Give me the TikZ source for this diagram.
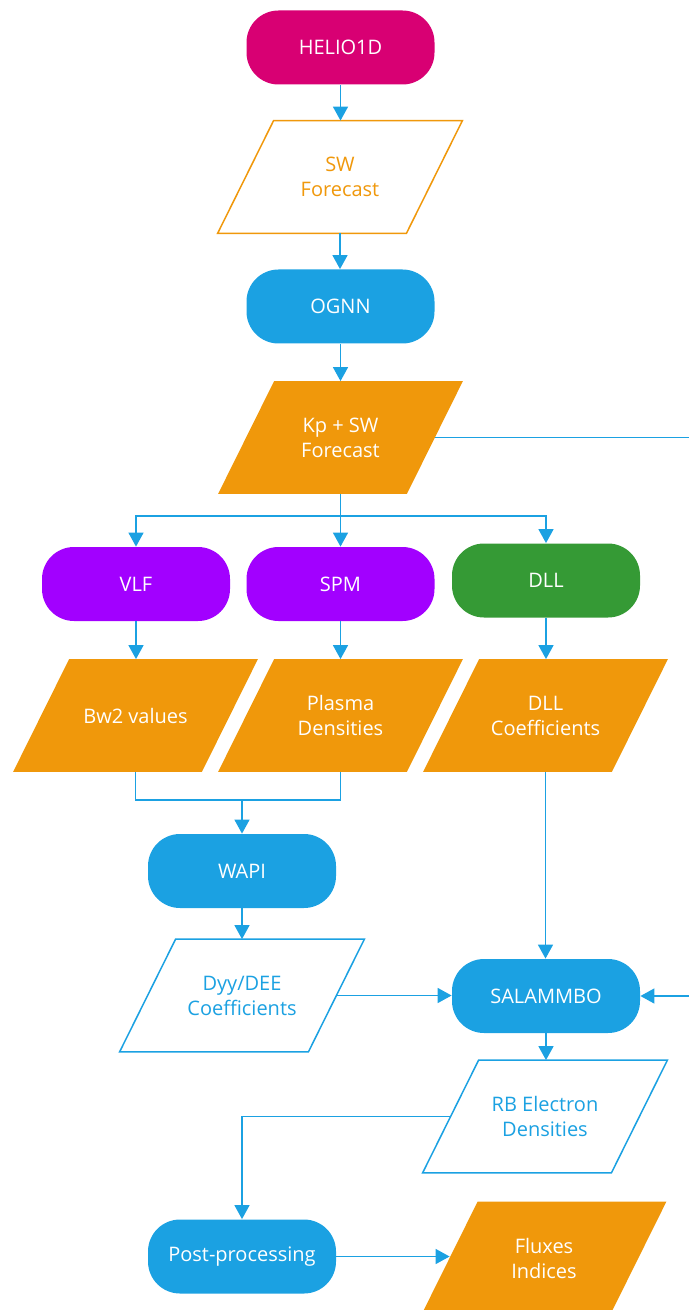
\documentclass[tikz,border=0pt]{standalone}
\usepackage{fontspec}
\setmainfont{Open Sans}
\usetikzlibrary{arrows.meta,backgrounds}
\definecolor{cmag}{HTML}{D80073}
\definecolor{cblue}{HTML}{1BA1E2}
\definecolor{cviol}{HTML}{A200FF}
\definecolor{cgreen}{HTML}{359A35}
\definecolor{corange}{HTML}{F0980B}
\newcommand\drawpara[2]{\path[#2] ([xshift=-14pt]#1.south west) -- ([xshift=-14pt]#1.south east) -- ([xshift=14pt]#1.north east) -- ([xshift=14pt]#1.north west) -- cycle;}
\begin{document}
\begin{tikzpicture}[x=0.5pt,y=-0.5pt,
  font=\fontsize{10}{12.5}\selectfont,
  term/.style={rectangle, rounded corners=16pt, minimum width=94pt, minimum height=37pt, inner sep=0pt, text=white, align=center},
  para/.style={rectangle, minimum width=94pt, minimum height=56pt, inner sep=0pt, align=center},
  conn/.style={draw=cblue, line width=0.75pt},
  arr/.style={conn, -{Triangle[length=7pt,width=7.5pt]}},
  outl/.style={line width=0.75pt, fill=white},
]
\useasboundingbox (0,0) rectangle (689,1310);

% terminal nodes
\node[term, fill=cmag]   (helio) at (340.5,47.5) {HELIO1D};
\node[term, fill=cblue]  (ognn)  at (340.5,306.5) {OGNN};
\node[term, fill=cviol]  (vlf)   at (136,584) {VLF};
\node[term, fill=cviol]  (spm)   at (340.5,584) {SPM};
\node[term, fill=cgreen] (dll)   at (546,580.5) {DLL};
\node[term, fill=cblue]  (wapi)  at (242,871) {WAPI};
\node[term, fill=cblue]  (sal)   at (546,996) {SALAMMBO};
\node[term, fill=cblue]  (post)  at (242,1256.5) {Post-processing};

% data nodes (parallelograms)
\node[para, text=corange] (sw)     at (340,177)      {SW\\Forecast};
\node[para, text=white]   (kp)     at (340.5,437.5)  {Kp + SW\\Forecast};
\node[para, text=white]   (bw2)    at (135.5,715.5)  {Bw2 values};
\node[para, text=white]   (plasma) at (340.5,715.5)  {Plasma\\Densities};
\node[para, text=white]   (dllc)   at (545.5,715.5)  {DLL\\Coefficients};
\node[para, text=cblue]   (dyy)    at (242,995.5)    {Dyy/DEE\\Coefficients};
\node[para, text=cblue]   (rb)     at (545,1116.5)   {RB Electron\\Densities};
\node[para, text=white]   (flux)   at (544,1258)     {Fluxes\\Indices};

\begin{scope}[on background layer]
  \drawpara{sw}{outl, draw=corange}
  \drawpara{kp}{fill=corange}
  \drawpara{bw2}{fill=corange}
  \drawpara{plasma}{fill=corange}
  \drawpara{dllc}{fill=corange}
  \drawpara{dyy}{outl, draw=cblue}
  \drawpara{rb}{outl, draw=cblue}
  \drawpara{flux}{fill=corange}
\end{scope}

\coordinate (jn) at (340.5,516);
\coordinate (mg) at (242,800);
\coordinate (fb) at (720,0);

% connectors
\draw[arr] (helio.south) -- (helio.south |- sw.north);
\draw[arr] (sw.south) -- (sw.south |- ognn.north);
\draw[arr] (ognn.south) -- (ognn.south |- kp.north);
\draw[conn] (kp.south -| jn) -- (jn);
\draw[arr] (jn) -| (vlf.north);
\draw[arr] (jn) -- (jn |- spm.north);
\draw[arr] (jn) -| (dll.north);
\draw[arr] (vlf.south) -- (vlf.south |- bw2.north);
\draw[arr] (spm.south) -- (spm.south |- plasma.north);
\draw[arr] (dll.south) -- (dll.south |- dllc.north);
\draw[conn] (bw2.south) |- (mg) -| (plasma.south);
\draw[arr] (mg) -- (mg |- wapi.north);
\draw[arr] (wapi.south) -- (wapi.south |- dyy.north);
\draw[arr] (dllc.south) -- (dllc.south |- sal.north);
\draw[arr] (dyy.east) -- (dyy.east -| sal.west);
\draw[arr] (kp.east) -- (kp.east -| fb) |- (sal.east);
\draw[arr] (sal.south) -- (sal.south |- rb.north);
\draw[arr] (rb.west) -| (post.north);
\draw[arr] (post.east) -- (post.east -| flux.west);
\end{tikzpicture}
\end{document}
